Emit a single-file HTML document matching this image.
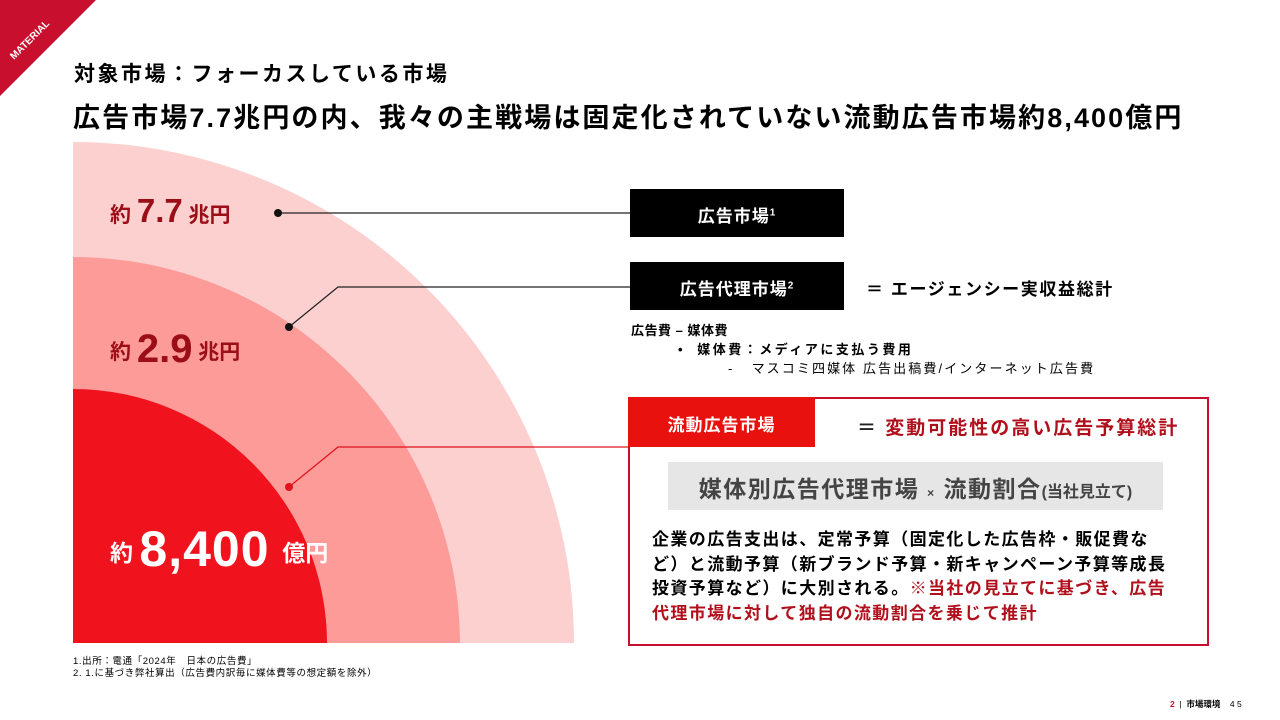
<!DOCTYPE html>
<html><head><meta charset="utf-8"><style>
body{margin:0;width:1280px;height:720px;position:relative;overflow:hidden;background:#fff;font-family:"Liberation Sans","Noto Sans CJK JP",sans-serif;}
.a{position:absolute;white-space:nowrap;}
.b{font-weight:bold;}
</style></head><body>
<svg class="a" style="left:0;top:0" width="1280" height="720">
<polygon points="0,0 96,0 0,96" fill="#c8102e"/>
<text x="14" y="60" transform="rotate(-45 14 60)" font-size="10" font-weight="bold" fill="#fff" font-family="Liberation Sans">MATERIAL</text>
<text x="40" y="62" transform="rotate(-45 40 62)" font-size="4" fill="#fff" font-family="Liberation Sans">GROUP</text>
<path d="M73,643 L73,142 A501,501 0 0 1 574,643 Z" fill="#fdd0d0"/>
<path d="M73,643 L73,257 A387,387 0 0 1 460,643 Z" fill="#fd9b99"/>
<path d="M73,643 L73,389 A254,254 0 0 1 327,643 Z" fill="#f0131d"/>
<line x1="278" y1="213" x2="630" y2="213" stroke="#222" stroke-width="1.2"/>
<circle cx="278" cy="213" r="4" fill="#111"/>
<polyline points="289,327 338,287 630,287" fill="none" stroke="#222" stroke-width="1.2"/>
<circle cx="289" cy="327" r="4" fill="#111"/>
<polyline points="289,487 338,447 628,447" fill="none" stroke="#e0121c" stroke-width="1.2"/>
<circle cx="289" cy="487" r="4" fill="#e0121c"/>
<rect x="630" y="189" width="214" height="48" fill="#000"/>
<rect x="630" y="262" width="214" height="48" fill="#000"/>
<rect x="629" y="398" width="579" height="247" fill="none" stroke="#c8102e" stroke-width="2"/>
<rect x="628" y="397" width="187" height="50" fill="#e8110e"/>
<rect x="668" y="462" width="495" height="48" fill="#e6e6e6"/>
</svg>
<div class="a b" style="left:74px;top:58px;font-size:21px;letter-spacing:2.5px;">対象市場：フォーカスしている市場</div>
<div class="a b" style="left:73px;top:96px;font-size:27px;letter-spacing:2.1px;">広告市場7.7兆円の内、我々の主戦場は固定化されていない流動広告市場約8,400億円</div>
<div class="a b" style="left:110px;top:192px;color:#9b0d17;font-size:21px;">約 <span style="font-size:33px">7.7</span> 兆円</div>
<div class="a b" style="left:110px;top:327px;color:#9b0d17;font-size:21px;">約 <span style="font-size:40px;vertical-align:-3px">2.9</span> 兆円</div>
<div class="a b" style="left:110px;top:520px;color:#fff;font-size:23px;">約 <span style="font-size:50px;vertical-align:-5px;letter-spacing:1px">8,400</span>&nbsp; 億円</div>
<div class="a b" style="left:630px;top:202px;width:214px;text-align:center;color:#fff;font-size:17px;letter-spacing:1px;">広告市場<sup style="font-size:10px">1</sup></div>
<div class="a b" style="left:630px;top:275px;width:214px;text-align:center;color:#fff;font-size:17px;letter-spacing:1px;">広告代理市場<sup style="font-size:10px">2</sup></div>
<div class="a b" style="left:866px;top:275px;font-size:17px;letter-spacing:1.6px;">＝ エージェンシー実収益総計</div>
<div class="a b" style="left:631px;top:320px;font-size:13px;letter-spacing:0.5px;">広告費 – 媒体費</div>
<div class="a b" style="left:678px;top:339px;font-size:13px;letter-spacing:2.5px;">•&nbsp;&nbsp;媒体費：メディアに支払う費用</div>
<div class="a" style="left:728px;top:358px;font-size:13px;letter-spacing:2.1px;">-&nbsp;&nbsp;&nbsp;マスコミ四媒体 広告出稿費/インターネット広告費</div>
<div class="a b" style="left:628px;top:411px;width:187px;text-align:center;color:#fff;font-size:17px;letter-spacing:1px;">流動広告市場</div>
<div class="a b" style="left:857px;top:413px;color:#b0101c;font-size:19px;letter-spacing:2px;"><span style="color:#222">＝</span> 変動可能性の高い広告予算総計</div>
<div class="a b" style="left:668px;top:470px;width:495px;text-align:center;color:#444;font-size:23px;letter-spacing:1.5px;">媒体別広告代理市場 <span style="font-size:12px">×</span> 流動割合<span style="font-size:16px;letter-spacing:0">(当社見立て)</span></div>
<div class="a b" style="left:652px;top:528px;font-size:17px;line-height:24.5px;white-space:normal;width:560px;letter-spacing:1.4px;">企業の広告支出は、定常予算（固定化した広告枠・販促費な<br>ど）と流動予算（新ブランド予算・新キャンペーン予算等成長<br>投資予算など）に大別される。<span style="color:#b0101c">※当社の見立てに基づき、広告<br>代理市場に対して独自の流動割合を乗じて推計</span></div>
<div class="a" style="left:73px;top:656px;font-size:9.5px;line-height:12px;letter-spacing:0.6px;">1.出所：電通「2024年　日本の広告費」<br>2. 1.に基づき弊社算出（広告費内訳毎に媒体費等の想定額を除外）</div>
<div class="a" style="left:1170px;top:698px;font-size:8.5px;"><span style="color:#c8102e;font-weight:bold">2</span>&nbsp;&nbsp;|&nbsp;&nbsp;<b>市場環境</b>&nbsp;&nbsp;&nbsp;&nbsp;4 5</div>
</body></html>
